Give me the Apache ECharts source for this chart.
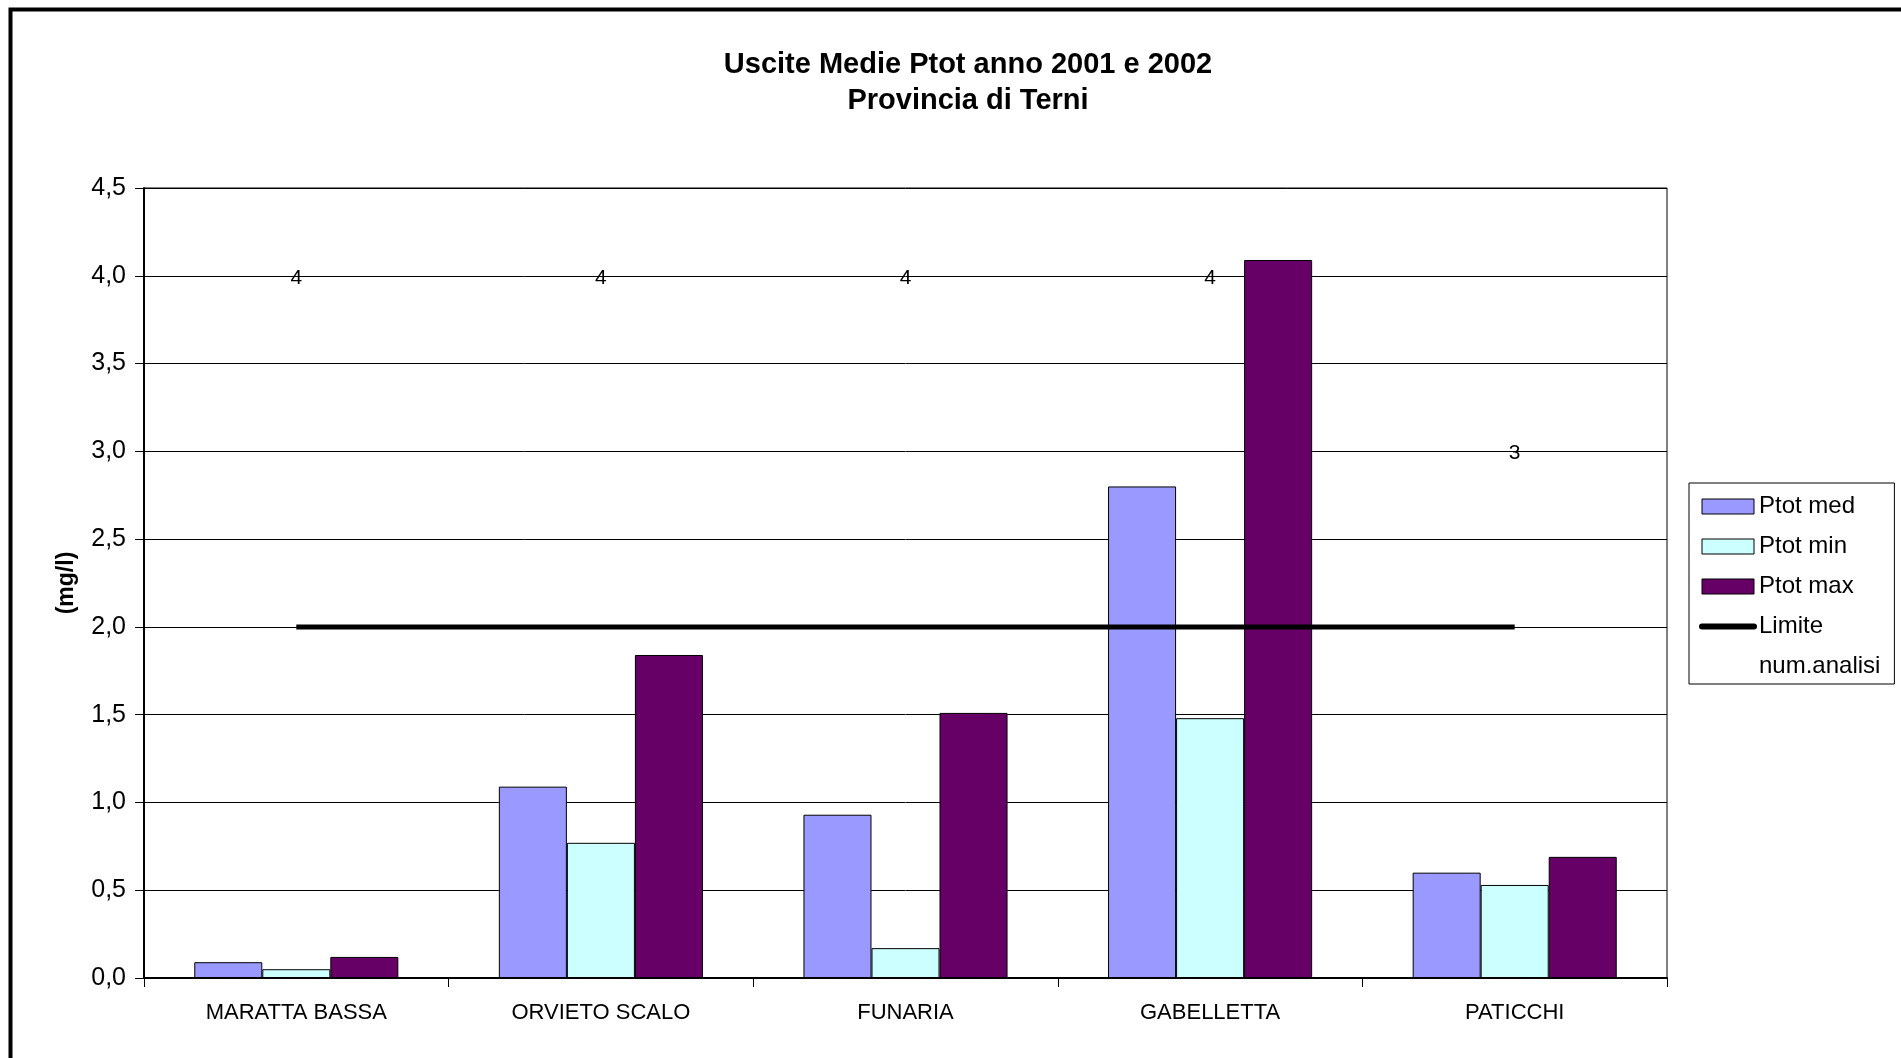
<!DOCTYPE html>
<html>
<head>
<meta charset="utf-8">
<script src="https://cdn.jsdelivr.net/npm/echarts@6/dist/echarts.min.js"></script>
<style>
html,body{margin:0;padding:0;background:#fff;}
#chart{width:1901px;height:1058px;}
</style>
</head>
<body>
<div id="chart"></div>
<script>
var categories = ['MARATTA BASSA', 'ORVIETO SCALO', 'FUNARIA', 'GABELLETTA', 'PATICCHI'];
var ptotMed = [0.09, 1.09, 0.93, 2.80, 0.60];
var ptotMin = [0.05, 0.77, 0.17, 1.48, 0.53];
var ptotMax = [0.12, 1.84, 1.51, 4.09, 0.69];
var limite = [2.0, 2.0, 2.0, 2.0, 2.0];
var numAnalisi = [4, 4, 4, 4, 3];
var titleLines = ['Uscite Medie Ptot anno 2001 e 2002', 'Provincia di Terni'];
var yTicks = {min: 0, max: 4.5, interval: 0.5};

var font = 'Liberation Sans, Arial, sans-serif';
var chart = echarts.init(document.getElementById('chart'), null, {renderer: 'canvas'});
var barBorder = {borderColor: '#000', borderWidth: 1};

chart.setOption({
  backgroundColor: '#fff',
  animation: false,
  title: {
    text: titleLines.join('\n'),
    left: 963,
    top: 42,
    textAlign: 'center',
    textStyle: {fontFamily: font, fontWeight: 'bold', fontSize: 29, lineHeight: 36, color: '#000'}
  },
  graphic: [{
    type: 'rect',
    shape: {x: 10.5, y: 9.5, width: 2100, height: 2100},
    style: {fill: 'none', stroke: '#000', lineWidth: 4},
    silent: true
  }],
  legend: {
    orient: 'vertical',
    left: 1689,
    top: 483,
    padding: [10, 14, 4, 10],
    borderColor: '#000',
    borderWidth: 1,
    itemWidth: 52,
    itemHeight: 15,
    itemGap: 13,
    itemTextGap: 9,
    textStyle: {fontFamily: font, fontSize: 24, lineHeight: 27, color: '#000'},
    data: [
      {name: 'Ptot med', icon: 'rect', itemStyle: {borderColor: '#000', borderWidth: 1}},
      {name: 'Ptot min', icon: 'rect', itemStyle: {borderColor: '#000', borderWidth: 1}},
      {name: 'Ptot max', icon: 'rect', itemStyle: {borderColor: '#000', borderWidth: 1}},
      {name: 'Limite', itemStyle: {opacity: 0}, lineStyle: {width: 6, color: '#000', cap: 'round'}},
      {name: 'num.analisi', icon: 'none'}
    ]
  },
  grid: {
    left: 144, right: 234, top: 188, bottom: 80,
    show: true, borderColor: '#000', borderWidth: 1, backgroundColor: '#fff'
  },
  xAxis: {
    type: 'category',
    data: categories,
    axisLine: {lineStyle: {color: '#000', width: 2}},
    axisTick: {show: true, length: 9, lineStyle: {color: '#000', width: 1}},
    axisLabel: {fontFamily: font, fontSize: 22, color: '#000', margin: 24},
    splitLine: {show: false}
  },
  yAxis: {
    type: 'value',
    min: yTicks.min, max: yTicks.max, interval: yTicks.interval,
    name: '(mg/l)',
    nameLocation: 'middle',
    nameGap: 66,
    nameTextStyle: {fontFamily: font, fontWeight: 'bold', fontSize: 23, color: '#000'},
    axisLine: {show: true, lineStyle: {color: '#000', width: 2}},
    axisTick: {show: true, length: 9, lineStyle: {color: '#000', width: 1}},
    axisLabel: {
      fontFamily: font, fontSize: 25, color: '#000', margin: 18,
      formatter: function (v) { return v.toFixed(1).replace('.', ','); }
    },
    splitLine: {show: true, lineStyle: {color: '#000', width: 1}}
  },
  series: [
    {name: 'Ptot med', type: 'bar', data: ptotMed, barGap: '0%', barCategoryGap: '33%',
     itemStyle: Object.assign({color: '#9999FF'}, barBorder)},
    {name: 'Ptot min', type: 'bar', data: ptotMin, barGap: '0%', barCategoryGap: '33%',
     itemStyle: Object.assign({color: '#CCFFFF'}, barBorder)},
    {name: 'Ptot max', type: 'bar', data: ptotMax, barGap: '0%', barCategoryGap: '33%',
     itemStyle: Object.assign({color: '#660066'}, barBorder)},
    {name: 'Limite', type: 'line', data: limite, symbol: 'none',
     lineStyle: {color: '#000', width: 5}, itemStyle: {color: '#000'}, z: 5},
    {name: 'num.analisi', type: 'line', data: numAnalisi, symbol: 'circle', symbolSize: 1,
     itemStyle: {color: 'rgba(0,0,0,0)'}, lineStyle: {width: 0, opacity: 0},
     label: {show: true, position: 'inside', fontFamily: font, fontSize: 21, color: '#000', offset: [0, 2]}, z: 6}
  ]
});
</script>
</body>
</html>
